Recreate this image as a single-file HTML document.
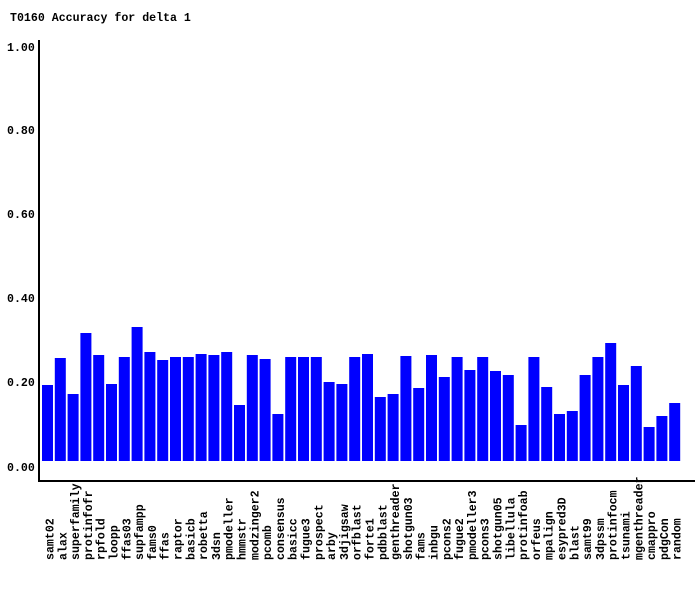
<!DOCTYPE html>
<html><head><meta charset="utf-8"><style>
html,body{margin:0;padding:0;background:#fff;}
svg text{font-family:"Liberation Mono","DejaVu Sans Mono",monospace;font-weight:bold;font-size:11.6px;fill:#000;}
</style></head><body>
<svg width="700" height="590" xmlns="http://www.w3.org/2000/svg">
<rect width="700" height="590" fill="#fff"/>
<text x="10" y="21">T0160 Accuracy for delta 1</text>
<g text-anchor="start">
<text x="7" y="51">1.00</text>
<text x="7" y="134">0.80</text>
<text x="7" y="218">0.60</text>
<text x="7" y="302">0.40</text>
<text x="7" y="386">0.20</text>
<text x="7" y="471">0.00</text>
</g>
<rect x="38" y="40" width="2" height="442" fill="#000"/>
<rect x="38" y="480" width="657" height="2" fill="#000"/>
<g id="bars" fill="#0000ff"></g>
<g id="labels"></g>
</svg>
<script>
var names=["samt02","alax","superfamily","protinfofr","rpfold","loopp","ffas03","supfampp","fams0","ffas","raptor","basicb","robetta","3dsn","pmodeller","hmmstr","modzinger2","pcomb","consensus","basicc","fugue3","prospect","arby","3djigsaw","orfblast","forte1","pdbblast","genthreader","shotgun03","fams","inbgu","pcons2","fugue2","pmodeller3","pcons3","shotgun05","libellula","protinfoab","orfeus","mpalign","esypred3D","blast","samt99","3dpssm","protinfocm","tsunami","mgenthreader","cmappro","pdgCon","random"];
var tops=[385,358,394,333,355,384,357,327,352,360,357,357,354,355,352,405,355,359,414,357,357,357,382,384,357,354,397,394,356,388,355,377,357,370,357,371,375,425,357,387,414,411,375,357,343,385,366,427,416,403];
var ns="http://www.w3.org/2000/svg";
var b=document.getElementById("bars"),l=document.getElementById("labels");
for(var i=0;i<50;i++){
var x=42+12.8*i;
var r=document.createElementNS(ns,"rect");
r.setAttribute("x",x.toFixed(1));r.setAttribute("y",tops[i]);
r.setAttribute("width","11");r.setAttribute("height",461-tops[i]);
b.appendChild(r);
var t=document.createElementNS(ns,"text");
var tx=x+11.5,ty=560;
t.setAttribute("transform","translate("+tx.toFixed(1)+","+ty+") rotate(-90)");
t.textContent=names[i];
l.appendChild(t);
}
</script>
</body></html>
